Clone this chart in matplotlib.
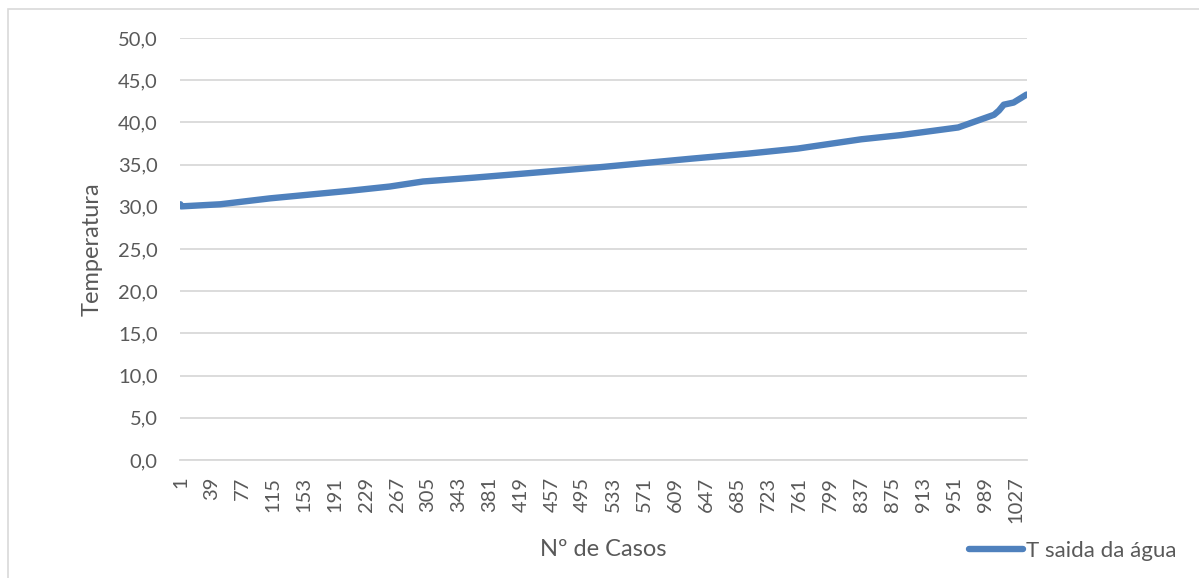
import matplotlib
matplotlib.use("Agg")
import matplotlib.pyplot as plt
from matplotlib.patches import Rectangle
from matplotlib.lines import Line2D

# ---- data ----
case_numbers = [1, 2, 50, 111, 209, 258, 299, 361, 418, 517, 628, 698, 759,
                837, 886, 956, 1000, 1006, 1012, 1024, 1040]
temperatures = [30.3, 30.05, 30.3, 31.0, 31.9, 32.4, 33.0, 33.45, 33.9, 34.7,
                35.7, 36.3, 36.9, 38.0, 38.5, 39.4, 40.9, 41.4, 42.1, 42.35, 43.3]
n_cases = 1040
x_tick_values = [1, 39, 77, 115, 153, 191, 229, 267, 305, 343, 381, 419, 457,
                 495, 533, 571, 609, 647, 685, 723, 761, 799, 837, 875, 913,
                 951, 989, 1027]
y_tick_values = [0, 5, 10, 15, 20, 25, 30, 35, 40, 45, 50]
series_name = "T saida da água"
x_title = "Nº de Casos"
y_title = "Temperatura"

# ---- styling ----
W, H = 1199, 578
FONT = "Lato"
TXT = "#595959"
GRID = "#D9D9D9"
LINE = "#4F81BD"

plt.rcParams["font.family"] = [FONT, "DejaVu Sans"]

fig = plt.figure(figsize=(W / 100, H / 100), dpi=100)
fig.patch.set_facecolor("white")

# outer chart border (partially cut off at right/bottom)
fig.patches.append(Rectangle((8 / W, -0.1), 1.2, (1 - 9 / H) + 0.1,
                             transform=fig.transFigure, fill=False,
                             edgecolor="#D9D9D9", linewidth=1.2))

ax = fig.add_axes([180 / W, 1 - 460 / H, (1027 - 180) / W, (460 - 38) / H])
ax.plot(case_numbers, temperatures, color=LINE, linewidth=4.6,
        solid_capstyle="round", solid_joinstyle="round", zorder=3)

ax.set_xlim(0.5, n_cases + 0.5)
ax.set_ylim(0, 50)
ax.set_yticks(y_tick_values)
ax.set_yticklabels([f"{v:.1f}".replace(".", ",") for v in y_tick_values])
ax.set_xticks(x_tick_values)
ax.set_xticklabels([str(v) for v in x_tick_values], rotation=90)

ax.grid(axis="y", color=GRID, linewidth=1.3)
ax.set_axisbelow(True)
for s in ["left", "right", "top"]:
    ax.spines[s].set_visible(False)
ax.spines["bottom"].set_color(GRID)
ax.spines["bottom"].set_linewidth(1.3)
ax.tick_params(axis="y", length=0, pad=16, labelsize=14.5, labelcolor=TXT)
ax.tick_params(axis="x", length=0, pad=12, labelsize=14.5, labelcolor=TXT)

fig.text(603 / W, 1 - 549 / H, x_title, ha="center", va="center",
         fontsize=17, color=TXT)
fig.text(92 / W, 1 - 249 / H, y_title, ha="center", va="center",
         rotation=90, fontsize=17, color=TXT)

handle = Line2D([], [], color=LINE, linewidth=4.6, solid_capstyle="round")
fig.legend([handle], [series_name], loc="center left",
           bbox_to_anchor=(969 / W, 1 - 551 / H), frameon=False,
           fontsize=16, handlelength=2.45, handletextpad=0.12,
           borderpad=0, borderaxespad=0, labelcolor=TXT)

fig.savefig("out.png", dpi=100, facecolor="white")
